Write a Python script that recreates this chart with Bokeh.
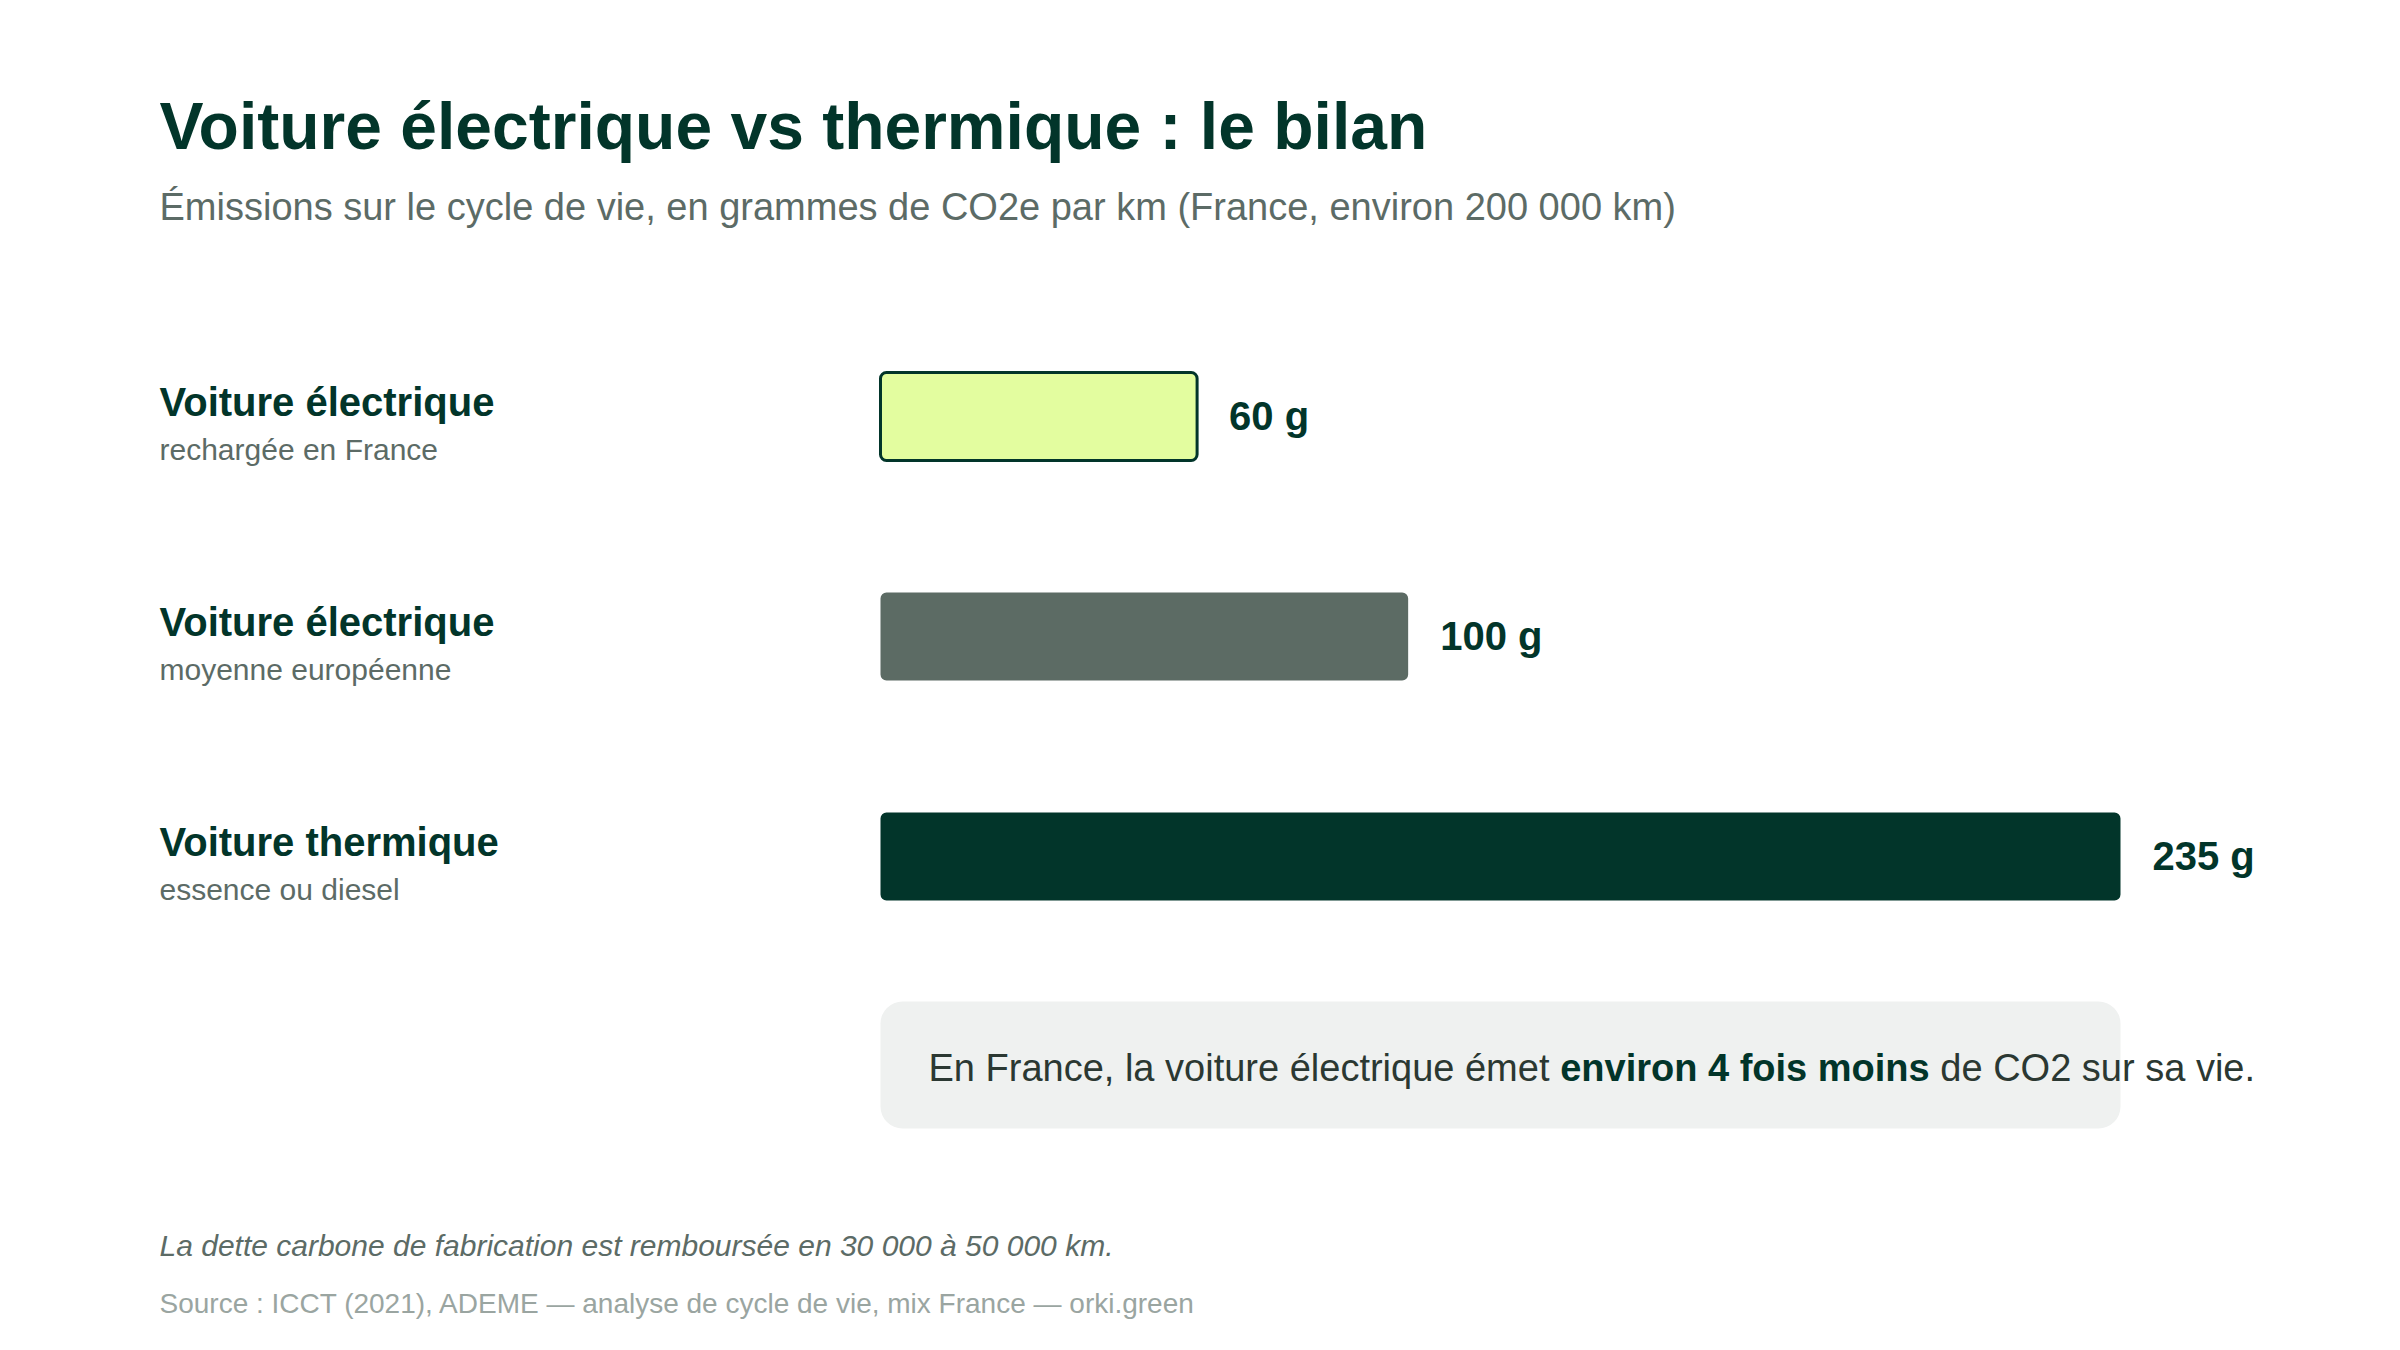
import glob
from bokeh.plotting import figure
from bokeh.models import Range1d, ColumnDataSource
from bokeh.core.properties import value
from bokeh.embed import file_html
from bokeh.resources import INLINE

# ---------------- data ----------------
title = "Voiture électrique vs thermique : le bilan"
subtitle = "Émissions sur le cycle de vie, en grammes de CO2e par km (France, environ 200 000 km)"
categories = ["Voiture électrique", "Voiture électrique", "Voiture thermique"]
details = ["rechargée en France", "moyenne européenne", "essence ou diesel"]
emissions = [60, 100, 235]
unit = "g"
note_parts = ["En France, la voiture électrique émet ", "environ 4 fois moins ", "de CO2 sur sa vie."]
footnote = "La dette carbone de fabrication est remboursée en 30 000 à 50 000 km."
source = "Source : ICCT (2021), ADEME — analyse de cycle de vie, mix France — orki.green"

# ---------------- style ----------------
FONT = "Liberation Sans"
DARK = "#02352a"
GREY = "#5c6b66"
LIGHT_GREY = "#9aa5a1"
bar_fill = ["#e3fd9f", "#5c6b64", "#02352a"]
bar_line_alpha = [1.0, 0.0, 0.0]

W, H = 2384, 1334
OX, OY = 0, 0
X0, X1 = 880, 2120          # screen x of 0 and of max value
ROW0_Y, ROW_GAP = 416, 220  # screen y of first row centre, spacing
K = 0.33                    # baseline correction (fraction of font size)
LEFT = 159
px_per_unit = (X1 - X0) / max(emissions)

x_start = -(X0 - OX) / px_per_unit
x_end = x_start + W / px_per_unit
y_top = -(ROW0_Y - OY) / ROW_GAP
y_bottom = y_top + H / ROW_GAP


def dx(X):
    return (X - X0) / px_per_unit


def dy(Y, size=0):
    return (Y - K * size - ROW0_Y) / ROW_GAP


def find_font(bold=False, italic=False):
    name = "LiberationSans-" + ("BoldItalic" if bold and italic else "Bold" if bold else "Italic" if italic else "Regular") + ".ttf"
    hits = glob.glob("/usr/share/fonts/**/" + name, recursive=True)
    return hits[0] if hits else None


def text_width(txt, size, bold=False):
    try:
        from PIL import ImageFont
        path = find_font(bold)
        if path:
            return ImageFont.truetype(path, size).getlength(txt)
    except Exception:
        pass
    return len(txt) * size * (0.55 if bold else 0.5)


p = figure(width=W, height=H, output_backend="svg", toolbar_location=None,
           x_range=Range1d(x_start, x_end), y_range=Range1d(y_bottom, y_top),
           min_border=0, outline_line_color=None, background_fill_color="white",
           border_fill_color="white")
p.axis.visible = False
p.grid.visible = False

rows = list(range(len(categories)))
src = ColumnDataSource(dict(
    y=rows, v=emissions, cat=categories, det=details,
    lab=[f"{v} {unit}" for v in emissions], fill=bar_fill, la=bar_line_alpha,
))

# bars
BAR_H = 88 / ROW_GAP
p.hbar(y="y", left=0, right="v", height=BAR_H, source=src, fill_color="fill",
       line_color=DARK, line_alpha="la", line_width=3, border_radius=6)

LAB = 40
SUB = 30
# value labels
p.text(x="v", y="y", text="lab", source=src, x_offset=32, y_offset=13 - K * LAB,
       text_baseline="alphabetic", text_align="left", text_font=value(FONT),
       text_font_size=f"{LAB}px", text_font_style="bold", text_color=DARK)

# category labels
p.text(x=dx(LEFT), y="y", text="cat", source=src, y_offset=-1 - K * LAB,
       text_baseline="alphabetic", text_font=value(FONT), text_font_size=f"{LAB}px",
       text_font_style="bold", text_color=DARK)
p.text(x=dx(LEFT), y="y", text="det", source=src, y_offset=43 - K * SUB,
       text_baseline="alphabetic", text_font=value(FONT), text_font_size=f"{SUB}px",
       text_color=GREY)

# title / subtitle
p.text(x=[dx(LEFT)], y=[dy(147, 66)], text=[title], text_baseline="alphabetic",
       text_font=value(FONT), text_font_size="66px", text_font_style="bold", text_color=DARK)
p.text(x=[dx(LEFT)], y=[dy(219, 38)], text=[subtitle], text_baseline="alphabetic",
       text_font=value(FONT), text_font_size="38px", text_color=GREY)

# note box
p.quad(left=[0], right=[max(emissions)], top=[dy(1001)], bottom=[dy(1128)],
       fill_color="#eff1f0", line_color=None, border_radius=22)
NOTE_SIZE = 38
xs = 928
positions = []
for i, part in enumerate(note_parts):
    positions.append(xs)
    xs += text_width(part, NOTE_SIZE, bold=(i == 1))
for i, part in enumerate(note_parts):
    p.text(x=[dx(positions[i])], y=[dy(1080, NOTE_SIZE)], text=[part], text_baseline="alphabetic",
           text_font=value(FONT), text_font_size=f"{NOTE_SIZE}px",
           text_font_style="bold" if i == 1 else "normal",
           text_color=DARK if i == 1 else "#2b3832")

# footnote / source
p.text(x=[dx(LEFT)], y=[dy(1255, 30)], text=[footnote], text_baseline="alphabetic",
       text_font=value(FONT), text_font_size="30px", text_font_style="italic", text_color=GREY)
p.text(x=[dx(LEFT)], y=[dy(1312, 28)], text=[source], text_baseline="alphabetic",
       text_font=value(FONT), text_font_size="28px", text_color=LIGHT_GREY)

open("out.html", "w").write(file_html(p, INLINE))
